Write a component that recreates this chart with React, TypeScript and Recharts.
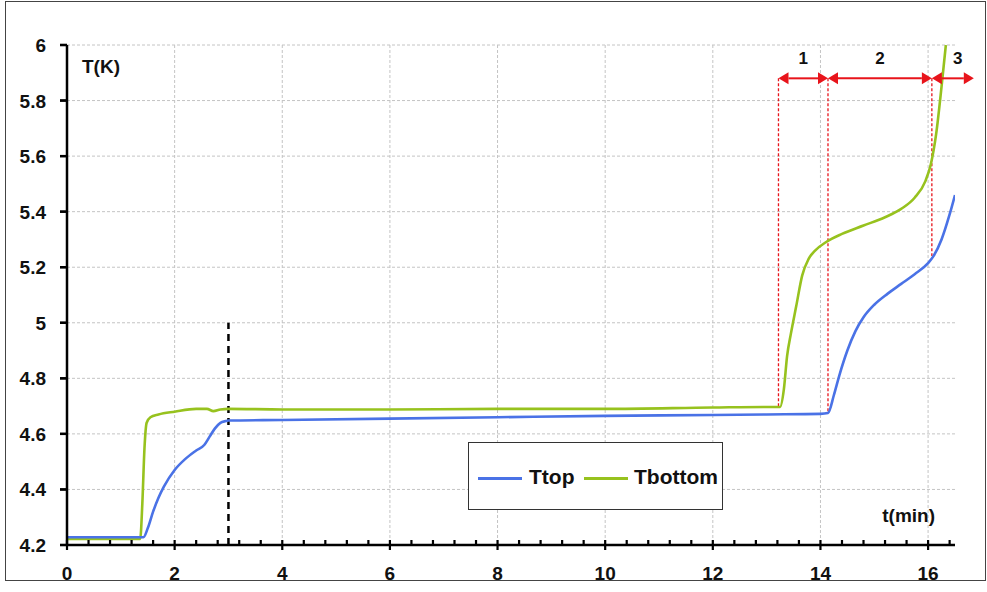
import React from 'react';
import {
  LineChart, Line, XAxis, YAxis, CartesianGrid, ReferenceLine, Legend,
} from 'recharts';

// ---- data ----
const ttopTime = [0, 0.5, 1.0, 1.42, 1.5, 1.6, 1.7, 1.8, 2.0, 2.2, 2.4, 2.55, 2.65, 2.75, 2.85, 2.95, 3.0, 4, 6, 8, 10, 12, 13, 14.0, 14.14, 14.25, 14.35, 14.5, 14.65, 14.8, 15.0, 15.25, 15.5, 15.75, 16.0, 16.1, 16.25, 16.4, 16.5];
const ttopVal = [4.228, 4.228, 4.228, 4.228, 4.26, 4.32, 4.37, 4.41, 4.47, 4.51, 4.54, 4.56, 4.59, 4.62, 4.64, 4.646, 4.648, 4.65, 4.655, 4.66, 4.665, 4.668, 4.67, 4.672, 4.675, 4.74, 4.81, 4.9, 4.97, 5.02, 5.065, 5.105, 5.14, 5.175, 5.215, 5.24, 5.3, 5.39, 5.46];

const tbotTime = [0, 0.5, 1.0, 1.36, 1.4, 1.44, 1.48, 1.55, 1.7, 2.0, 2.4, 2.6, 2.72, 2.85, 3.0, 4, 6, 8, 10, 12, 13.0, 13.25, 13.32, 13.38, 13.45, 13.55, 13.66, 13.78, 13.9, 14.1, 14.4, 14.8, 15.2, 15.5, 15.75, 15.95, 16.05, 16.15, 16.25, 16.33];
const tbotVal = [4.222, 4.222, 4.222, 4.222, 4.35, 4.55, 4.64, 4.66, 4.67, 4.68, 4.69, 4.69, 4.682, 4.688, 4.69, 4.688, 4.688, 4.69, 4.69, 4.695, 4.697, 4.697, 4.76, 4.88, 4.96, 5.06, 5.17, 5.23, 5.26, 5.29, 5.32, 5.35, 5.38, 5.41, 5.45, 5.51, 5.57, 5.68, 5.85, 6.0];

const xTicks = [0, 0.4, 0.8, 1.2, 1.6, 2, 2.4, 2.8, 3.2, 3.6, 4, 4.4, 4.8, 5.2, 5.6, 6, 6.4, 6.8, 7.2, 7.6, 8, 8.4, 8.8, 9.2, 9.6, 10, 10.4, 10.8, 11.2, 11.6, 12, 12.4, 12.8, 13.2, 13.6, 14, 14.4, 14.8, 15.2, 15.6, 16, 16.4];
const xMajor = [0, 2, 4, 6, 8, 10, 12, 14, 16];
const yTicks = [4.2, 4.4, 4.6, 4.8, 5, 5.2, 5.4, 5.6, 5.8, 6];

// annotation positions (minutes / K)
const phaseBounds = [13.22, 14.14, 16.07, 16.85];
const phaseLabels = ['1', '2', '3'];
const phaseArrowY = 5.88;
const phaseLineBottoms = [4.697, 4.675, 5.24];
const marker3min = 3;

const ttopData = ttopTime.map((t, i) => ({ t, v: ttopVal[i] }));
const tbotData = tbotTime.map((t, i) => ({ t, v: tbotVal[i] }));

const FONT = '"Liberation Sans", Arial, sans-serif';
const BLUE = '#4A72E6';
const GREEN = '#97C21E';
const RED = '#E8141B';

const isMajor = (v: number) => xMajor.some((m) => Math.abs(m - v) < 1e-6);

// tick marks drawn with the chart's own scales (shape receives pixel coords)
const XTickMark = (major: boolean) => (props: any) => {
  const { x1, y1 } = props;
  return <rect x={x1 - 1.1} y={y1 - 5} width={2.2} height={major ? 10 : 5} fill="#000" />;
};
const YTickMark = (props: any) => {
  const { x1, y1 } = props;
  return <rect x={x1 - 7} y={y1 - 1.1} width={7} height={2.2} fill="#000" />;
};

const renderXTick = (props: any) => {
  const { x, y, payload } = props;
  const v = payload.value;
  if (!isMajor(v)) return <g />;
  return (
    <text x={x} y={y + 35} textAnchor="middle" fontFamily={FONT} fontWeight="bold" fontSize={19} fill="#111">
      {String(v)}
    </text>
  );
};

const renderYTick = (props: any) => {
  const { x, y, payload } = props;
  return (
    <text x={x} y={y + 7} textAnchor="end" fontFamily={FONT} fontWeight="bold" fontSize={19} fill="#111">
      {String(payload.value)}
    </text>
  );
};

const DoubleArrow = (label: string) => (props: any) => {
  const { x1, y1, x2 } = props;
  const a = 10;
  const h = 6;
  const y = y1;
  return (
    <g>
      <line x1={x1 + a} x2={x2 - a} y1={y} y2={y} stroke={RED} strokeWidth={2} />
      <polygon points={`${x1},${y} ${x1 + a},${y - h} ${x1 + a},${y + h}`} fill={RED} />
      <polygon points={`${x2},${y} ${x2 - a},${y - h} ${x2 - a},${y + h}`} fill={RED} />
      <text x={(x1 + x2) / 2 + (label === '3' ? 5 : 0)} y={y - 14} textAnchor="middle" fontFamily={FONT} fontWeight="bold" fontSize={17} fill="#111">
        {label}
      </text>
    </g>
  );
};

const LegendBox = () => (
  <div
    style={{
      width: 255, height: 68, boxSizing: 'border-box', border: '1.5px solid #333', background: '#fff',
      fontFamily: FONT, fontWeight: 'bold', fontSize: 21, color: '#111', position: 'relative',
    }}
  >
    <div style={{ position: 'absolute', left: 9, top: 34, width: 44, height: 3, background: BLUE }} />
    <div style={{ position: 'absolute', left: 60, top: 22, lineHeight: '24px' }}>Ttop</div>
    <div style={{ position: 'absolute', left: 115, top: 34, width: 44, height: 3, background: GREEN }} />
    <div style={{ position: 'absolute', left: 165, top: 22, lineHeight: '24px', whiteSpace: 'nowrap' }}>Tbottom</div>
  </div>
);

const AxisTitleY = (props: any) => {
  const { viewBox } = props;
  return (
    <text x={viewBox.x + viewBox.width + 15} y={viewBox.y + 28} fontFamily={FONT} fontWeight="bold" fontSize={19} fill="#111">
      T(K)
    </text>
  );
};

const AxisTitleX = (props: any) => {
  const { viewBox } = props;
  return (
    <text x={viewBox.x + viewBox.width - 20} y={viewBox.y - 23} textAnchor="end" fontFamily={FONT} fontWeight="bold" fontSize={19} fill="#111">
      t(min)
    </text>
  );
};

export default function App() {
  return (
    <div style={{ position: 'absolute', left: 0, top: 0, width: 987, height: 592, background: '#fff' }}>
      <LineChart width={987} height={592} margin={{ top: 45, right: 32, left: 0, bottom: 0 }}>
        <CartesianGrid
          stroke="#c4c4c4"
          strokeDasharray="3 2"
          horizontalValues={yTicks.slice(1)}
          verticalValues={xMajor.slice(1)}
        />
        <XAxis
          type="number"
          dataKey="t"
          domain={[0, 16.5]}
          allowDataOverflow
          ticks={xTicks}
          interval={0}
          tickSize={0}
          tickMargin={0}
          tickLine={false}
          tick={renderXTick}
          height={47}
          axisLine={{ stroke: '#000', strokeWidth: 2.5 }}
          label={<AxisTitleX />}
        />
        <YAxis
          type="number"
          domain={[4.2, 6]}
          allowDataOverflow
          ticks={yTicks}
          interval={0}
          tickSize={7}
          tickMargin={14}
          tickLine={{ stroke: '#000', strokeWidth: 2.4 }}
          tick={renderYTick}
          width={67}
          axisLine={{ stroke: '#000', strokeWidth: 2.5 }}
          label={<AxisTitleY />}
        />
        <ReferenceLine
          segment={[{ x: marker3min, y: 4.2 }, { x: marker3min, y: 5.0 }]}
          stroke="#000"
          strokeWidth={2.5}
          strokeDasharray="7 5"
          ifOverflow="visible"
        />
        {phaseBounds.slice(0, 3).map((b, i) => (
          <ReferenceLine
            key={'v' + i}
            segment={[{ x: b, y: phaseArrowY }, { x: b, y: phaseLineBottoms[i] }]}
            stroke={RED}
            strokeWidth={1.3}
            strokeDasharray="3 2"
            ifOverflow="visible"
          />
        ))}
        <Line data={tbotData} dataKey="v" type="monotone" stroke={GREEN} strokeWidth={2.6} dot={false} isAnimationActive={false} name="Tbottom" />
        <Line data={ttopData} dataKey="v" type="monotone" stroke={BLUE} strokeWidth={2.6} dot={false} isAnimationActive={false} name="Ttop" />
        {xTicks.map((v) => (
          <ReferenceLine
            key={'xt' + v}
            segment={[{ x: v, y: 4.2 }, { x: v, y: 4.2 }]}
            ifOverflow="visible"
            shape={XTickMark(isMajor(v))}
          />
        ))}
        {yTicks.map((v) => (
          <ReferenceLine
            key={'yt' + v}
            segment={[{ x: 0, y: v }, { x: 0, y: v }]}
            ifOverflow="visible"
            shape={YTickMark}
          />
        ))}
        {phaseLabels.map((lab, i) => (
          <ReferenceLine
            key={'a' + i}
            segment={[{ x: phaseBounds[i], y: phaseArrowY }, { x: phaseBounds[i + 1], y: phaseArrowY }]}
            ifOverflow="visible"
            shape={DoubleArrow(lab)}
          />
        ))}
        <Legend
          verticalAlign="middle"
          align="center"
          layout="horizontal"
          wrapperStyle={{ position: 'absolute', left: 468, top: 442, width: 255, height: 68 }}
          content={<LegendBox />}
        />
      </LineChart>
      <div style={{ position: 'absolute', left: 5, top: 1, width: 981, height: 580, border: '1.5px solid #444', boxSizing: 'border-box', pointerEvents: 'none' }} />
    </div>
  );
}
